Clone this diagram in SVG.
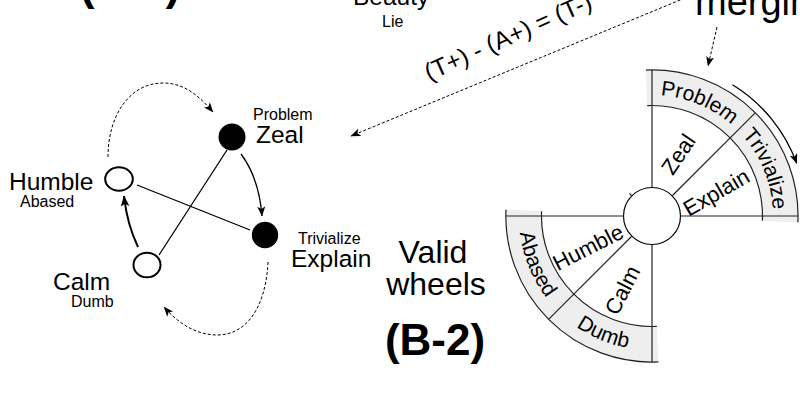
<svg xmlns="http://www.w3.org/2000/svg" width="800" height="404" viewBox="0 0 800 404">
<style>
text{font-family:"Liberation Sans",Arial,sans-serif;fill:#000}
.big{font-size:24.5px}
.small{font-size:16px}
.title{font-size:44px;font-weight:bold}
.wt{font-size:21px}
.wi{font-size:22px}
.edge{fill:none;stroke:#000;stroke-width:1.3}
.dash{fill:none;stroke:#000;stroke-width:1;stroke-dasharray:3 2}
.wl{fill:none;stroke:#222;stroke-width:1.2}
.band{fill:#eeeeee;stroke:none}
</style>
<defs>
<marker id="ah" viewBox="0 0 10 8" refX="9.5" refY="4" markerWidth="10" markerHeight="8" orient="auto" markerUnits="userSpaceOnUse">
<path d="M0,0 L10,4 L0,8 L2.5,4 z" fill="#000"/>
</marker>
<marker id="ahb" viewBox="0 0 10 8" refX="9.5" refY="4" markerWidth="11" markerHeight="9" orient="auto" markerUnits="userSpaceOnUse">
<path d="M0,0 L10,4 L0,8 L2.5,4 z" fill="#000"/>
</marker>
<path id="pProblem" d="M605.7,104.2 A121,121 0 0 1 763.8,169.7"/>
<path id="pTriv" d="M698.3,104.2 A121,121 0 0 1 763.8,262.3"/>
<path id="pAbased" d="M529.1,165.1 A134,134 0 0 0 600.7,339.8"/>
<path id="pDumb" d="M528.2,267.3 A134,134 0 0 0 703.3,339.8"/>
</defs>

<!-- titles / free text -->
<text class="title" x="80" y="0">(B-1)</text>
<text class="big" x="353" y="5">Beauty</text>
<text class="small" x="382" y="27">Lie</text>
<text style="font-size:38px" x="695" y="15">merging</text>
<text class="big" transform="translate(429,81) rotate(-24)">(T+) - (A+) = (T-)</text>
<text style="font-size:32px" x="433" y="263" text-anchor="middle">Valid</text>
<text style="font-size:32px" x="436" y="295" text-anchor="middle">wheels</text>
<text class="title" x="435" y="355" text-anchor="middle">(B-2)</text>

<!-- connectors -->
<g id="connectors">
<line class="edge" x1="227" y1="150" x2="159" y2="255"/>
<line class="edge" x1="137" y1="185" x2="250" y2="230"/>
<path class="edge" d="M241,154 Q259,178 262,216" marker-end="url(#ah)"/>
<path class="edge" style="stroke-width:2" d="M138,247 Q127,224 124,196" marker-end="url(#ahb)"/>
<path class="dash" d="M108,157 C108,115 130,83 163,83 C185,83 200,97 213,112" marker-end="url(#ah)"/>
<path class="dash" d="M268,262 C266,305 248,335 217,335 C196,335 178,323 164,307" marker-end="url(#ah)"/>
<line class="dash" x1="685" y1="-2" x2="351" y2="136" marker-end="url(#ah)"/>
<line class="dash" x1="717" y1="27" x2="708" y2="66" marker-end="url(#ah)"/>
<path class="edge" d="M732.5,84.7 A154,154 0 0 1 796.7,163.3" marker-end="url(#ah)"/>
</g>

<!-- graph nodes -->
<g id="node-zeal">
<circle cx="232" cy="137" r="13.5" fill="#000"/>
<text class="small" x="253" y="120">Problem</text>
<text class="big" x="256" y="143">Zeal</text>
</g>
<g id="node-explain">
<circle cx="265" cy="235" r="13.2" fill="#000"/>
<text class="small" x="298" y="244">Trivialize</text>
<text class="big" x="291" y="267">Explain</text>
</g>
<g id="node-humble">
<ellipse cx="119" cy="179" rx="13.8" ry="11.8" fill="#fff" stroke="#000" stroke-width="2"/>
<text class="big" x="9" y="190">Humble</text>
<text class="small" x="20" y="207">Abased</text>
</g>
<g id="node-calm">
<ellipse cx="147" cy="265" rx="13.5" ry="12.3" fill="#fff" stroke="#000" stroke-width="2"/>
<text class="big" x="53" y="290">Calm</text>
<text class="small" x="71" y="307">Dumb</text>
</g>

<!-- wheel -->
<g id="wheel">
<path class="band" d="M646,70.1 A146,146 0 0 1 797.9,222.4 L762.4,220.8 A110.5,110.5 0 0 0 647.2,105.6 z"/>
<path class="band" d="M506,209.6 A146,146 0 0 0 658.4,361.9 L656.8,326.4 A110.5,110.5 0 0 1 541.6,211.2 z"/>
<path class="wl" d="M646,70.1 A146,146 0 0 1 797.9,222.4"/>
<path class="wl" d="M647.2,105.6 A110.5,110.5 0 0 1 762.4,220.8"/>
<path class="wl" d="M506,209.6 A146,146 0 0 0 658.4,361.9"/>
<path class="wl" d="M541.6,211.2 A110.5,110.5 0 0 0 656.8,326.4"/>
<line class="wl" x1="652" y1="187" x2="652" y2="70"/>
<line class="wl" x1="681" y1="216" x2="798" y2="216"/>
<line class="wl" x1="672.5" y1="195.5" x2="755.2" y2="112.8"/>
<line class="wl" x1="623" y1="216" x2="506" y2="216"/>
<line class="wl" x1="652" y1="245" x2="652" y2="362"/>
<line class="wl" x1="631.5" y1="236.5" x2="548.8" y2="319.2"/>
<line class="wl" x1="631.5" y1="195.5" x2="629.5" y2="193.5"/>
<circle cx="652" cy="216" r="28.5" fill="#fff" stroke="#000" stroke-width="1.2"/>
<text class="wt"><textPath href="#pProblem" startOffset="50%" text-anchor="middle">Problem</textPath></text>
<text class="wt"><textPath href="#pTriv" startOffset="50%" text-anchor="middle">Trivialize</textPath></text>
<text class="wt"><textPath href="#pAbased" startOffset="50%" text-anchor="middle">Abased</textPath></text>
<text class="wt"><textPath href="#pDumb" startOffset="50%" text-anchor="middle">Dumb</textPath></text>
<text class="wi" transform="translate(678,154) rotate(-56)" y="8" text-anchor="middle">Zeal</text>
<text class="wi" transform="translate(716,192) rotate(-30)" y="8" text-anchor="middle">Explain</text>
<text class="wi" transform="translate(588,247) rotate(-27)" y="8" text-anchor="middle">Humble</text>
<text class="wi" transform="translate(622,290) rotate(-63)" y="8" text-anchor="middle">Calm</text>
</g>
</svg>
